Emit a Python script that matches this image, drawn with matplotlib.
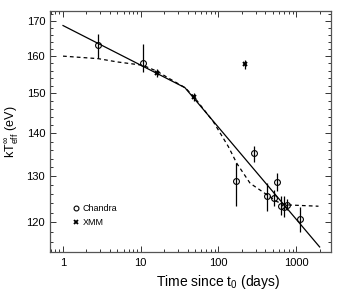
import matplotlib
matplotlib.use('Agg')
import matplotlib.pyplot as plt
from matplotlib.ticker import FixedLocator, NullFormatter, LogLocator

plt.rcParams['font.family'] = ['Liberation Sans', 'DejaVu Sans']
plt.rcParams['mathtext.fontset'] = 'custom'
plt.rcParams['mathtext.rm'] = 'Liberation Sans'
plt.rcParams['mathtext.it'] = 'Liberation Sans:italic'

# Chandra observations (days, eV) with lower / upper errors
chandra_t = [2.85, 10.6, 168, 290, 418, 520, 573, 639, 699, 770, 1120]
chandra_T = [163.2, 158.2, 128.8, 135.2, 125.7, 125.2, 128.6, 123.5, 123.3, 123.7, 120.7]
chandra_lo = [3.6, 2.5, 5.3, 2.0, 3.4, 1.8, 1.8, 2.0, 2.2, 1.2, 2.6]
chandra_hi = [3.1, 5.3, 4.1, 1.7, 2.7, 1.8, 2.0, 2.0, 2.2, 1.2, 2.6]

# XMM observations
xmm_t = [16.1, 48.5, 222]
xmm_T = [155.4, 149.1, 157.8]
xmm_err = [1.0, 1.0, 1.2]

# broken power-law fit (solid)
fit_t = [1, 37, 2000]
fit_T = [168.7, 151.5, 115.0]

# cooling model (dashed)
model_t = [1, 2.85, 5.0, 10.6, 16.1, 23.8, 37.2, 48.5, 86, 134, 172, 255, 418, 563, 720, 1932]
model_T = [160.0, 159.3, 158.4, 157.5, 155.9, 153.8, 151.5, 149.1, 142.8, 136.8, 132.9,
           128.4, 125.9, 124.4, 123.7, 123.4]

fig = plt.figure(figsize=(3.38, 2.94), dpi=100)
ax = fig.add_axes([50/338, 42/294, 281/338, 241/294])

ax.plot(fit_t, fit_T, c='black', lw=0.9)
ax.plot(model_t, model_T, c='black', lw=0.9, ls=(0, (3, 2.5)))

ax.errorbar(chandra_t, chandra_T, yerr=[chandra_lo, chandra_hi], fmt='o', ms=4.2,
            mfc='none', mec='black', mew=0.8, ecolor='black', elinewidth=0.9, capsize=0)
ax.errorbar(xmm_t, xmm_T, yerr=xmm_err, fmt='x', ms=3.5, mec='black', mew=1.4,
            ecolor='black', elinewidth=0.9, capsize=0)

ax.set_xscale('log')
ax.set_yscale('log')
ax.set_xlim(0.68, 2800)
ax.set_ylim(114, 173)

ax.xaxis.set_major_locator(FixedLocator([1, 10, 100, 1000]))
ax.set_xticklabels(['1', '10', '100', '1000'])
ax.xaxis.set_minor_locator(LogLocator(base=10, subs=range(2, 10)))
ax.xaxis.set_minor_formatter(NullFormatter())

ax.yaxis.set_major_locator(FixedLocator([120, 130, 140, 150, 160, 170]))
ax.set_yticklabels(['120', '130', '140', '150', '160', '170'])
ax.yaxis.set_minor_locator(FixedLocator([v for v in range(114, 174, 2) if v % 10 != 0]))
ax.yaxis.set_minor_formatter(NullFormatter())

ax.tick_params(axis='both', which='both', direction='in', top=True, right=True,
               labelsize=8, width=0.7, colors='#333333', labelcolor='black')
ax.tick_params(axis='both', which='major', length=4, pad=4)
ax.tick_params(axis='y', which='major', pad=3.5)
ax.tick_params(axis='both', which='minor', length=2)
for s in ax.spines.values():
    s.set_linewidth(0.9)
    s.set_color('#555555')

ax.set_xlabel(r'Time since t$_0$ (days)', fontsize=10)
ax.xaxis.set_label_coords((218 - 50) / 281, -0.088)
ax.set_ylabel(r'kT$_{\rm eff}^{\infty}$ (eV)', fontsize=9)
ax.yaxis.set_label_coords(-0.103, 0.5)

# legend drawn inside the axes
ax.plot([0.093], [0.182], 'o', transform=ax.transAxes, ms=3.5, mfc='none', mec='black', mew=0.8)
ax.text(0.115, 0.182, 'Chandra', transform=ax.transAxes, fontsize=6.5, va='center')
ax.plot([0.093], [0.124], 'x', transform=ax.transAxes, ms=3, mec='black', mew=1.3)
ax.text(0.115, 0.124, 'XMM', transform=ax.transAxes, fontsize=6.5, va='center')

fig.savefig('out.png', dpi=100)
